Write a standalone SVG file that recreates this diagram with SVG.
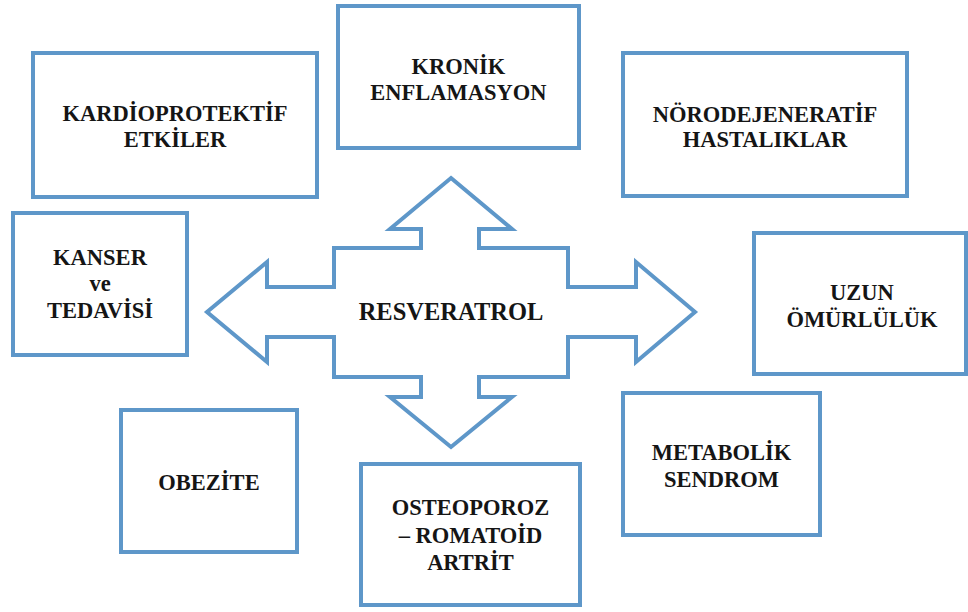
<svg xmlns="http://www.w3.org/2000/svg" width="968" height="612" viewBox="0 0 968 612">
<style>
.box{fill:#fff;stroke:#5e97c9;stroke-width:4}
.arrow{fill:#fff;stroke:#5e97c9;stroke-width:4;stroke-linejoin:miter}
text{font-family:"Liberation Serif","Times New Roman",serif;font-weight:bold;font-size:22.5px;fill:#151515;text-anchor:middle}
.big{font-size:24.5px}
</style>
<rect width="968" height="612" fill="#fff"/>
<g id="connectors">
<path class="arrow" d="M451,178 L512,229 L479,229 L479,248 L568,248 L568,287 L636,287 L636,262 L695,312 L636,362 L636,337 L568,337 L568,377 L479,377 L479,397 L512,397 L451,447 L390,397 L421,397 L421,377 L334,377 L334,337 L267,337 L267,362 L207,312 L267,262 L267,287 L334,287 L334,248 L421,248 L421,229 L390,229 Z"/>
</g>
<g id="resveratrol"><text class="big" x="451" y="320">RESVERATROL</text></g>
<g id="kardio"><rect class="box" x="33" y="53" width="284" height="144"/><text x="175" y="121">KARDİOPROTEKTİF</text><text x="175" y="147">ETKİLER</text></g>
<g id="kronik"><rect class="box" x="338" y="6" width="241" height="142"/><text x="458.5" y="74">KRONİK</text><text x="458.5" y="100">ENFLAMASYON</text></g>
<g id="norodejeneratif"><rect class="box" x="623" y="53" width="284" height="143"/><text x="765" y="122">NÖRODEJENERATİF</text><text x="765" y="147">HASTALIKLAR</text></g>
<g id="kanser"><rect class="box" x="13" y="213" width="174" height="142"/><text x="100" y="265">KANSER</text><text x="100" y="291">ve</text><text x="100" y="318">TEDAVİSİ</text></g>
<g id="uzun"><rect class="box" x="754" y="233" width="212" height="141"/><text x="862" y="300">UZUN</text><text x="862" y="327">ÖMÜRLÜLÜK</text></g>
<g id="obezite"><rect class="box" x="121" y="410" width="176" height="142"/><text x="209" y="490">OBEZİTE</text></g>
<g id="osteoporoz"><rect class="box" x="361" y="464" width="219" height="141"/><text x="470.5" y="515">OSTEOPOROZ</text><text x="470.5" y="543">– ROMATOİD</text><text x="470.5" y="570">ARTRİT</text></g>
<g id="metabolik"><rect class="box" x="623" y="393" width="197" height="142"/><text x="721.5" y="460">METABOLİK</text><text x="721.5" y="487">SENDROM</text></g>
</svg>
